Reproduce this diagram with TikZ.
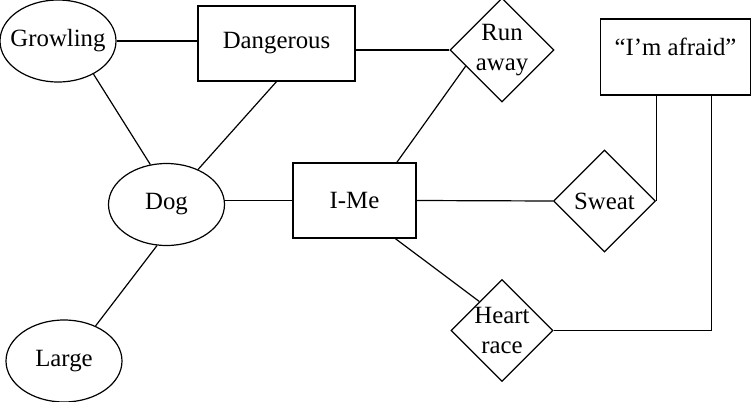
\documentclass[tikz,border=0pt]{standalone}
\usepackage{fontspec}
\setmainfont{Liberation Serif}
\usetikzlibrary{shapes.geometric}

\begin{document}
\begin{tikzpicture}[x=0.5pt,y=-0.5pt,line width=0.6pt,
  font=\fontsize{12.4}{15}\selectfont,
  trait/.style={draw,ellipse,inner xsep=-4pt,inner ysep=0pt,minimum width=58pt,minimum height=41pt},
  concept/.style={draw,rectangle,inner sep=0pt,minimum height=37.5pt},
  reaction/.style={draw,diamond,aspect=1,inner sep=0pt,minimum size=51pt,align=center}]
\useasboundingbox (0,0) rectangle (751,402);
\node[trait] (growl) at (58,41) {Growling};
\node[concept,minimum width=78.5pt] (danger) at (276.5,43.5) {Dangerous};
\node[trait] (dog) at (166.5,204.5) {Dog};
\node[trait] (large) at (64,361) {Large};
\node[concept,minimum width=61.5pt] (ime) at (354.5,200.5) {I-Me};
\node[reaction] (run) at (502,50) {Run\\away};
\node[reaction] (sweat) at (604.5,201) {Sweat};
\node[reaction] (heart) at (502,330.5) {Heart\\race};
\node[concept,minimum width=75pt,minimum height=38pt,text height=8.5pt,text depth=10.5pt] (afraid) at (675.5,57) {“I’m afraid”};
\draw (growl.east) -- (growl.east -| danger.west);
\draw (run.west) -- (run.west -| danger.east);
\draw (growl.-43) -- (dog.112);
\draw (danger.south) -- (dog.48);
\draw (dog.-103) -- (large.48);
\draw (ime.west) -- (ime.west -| dog.east);
\draw (ime.42) -- (run.204);
\draw (ime.east) -- (sweat.west);
\draw (ime.-43) -- (heart.128);
\draw (sweat.east) -- (sweat.east |- afraid.south);
\draw (heart.east) -| ([xshift=-20pt]afraid.south east);
\end{tikzpicture}
\end{document}
